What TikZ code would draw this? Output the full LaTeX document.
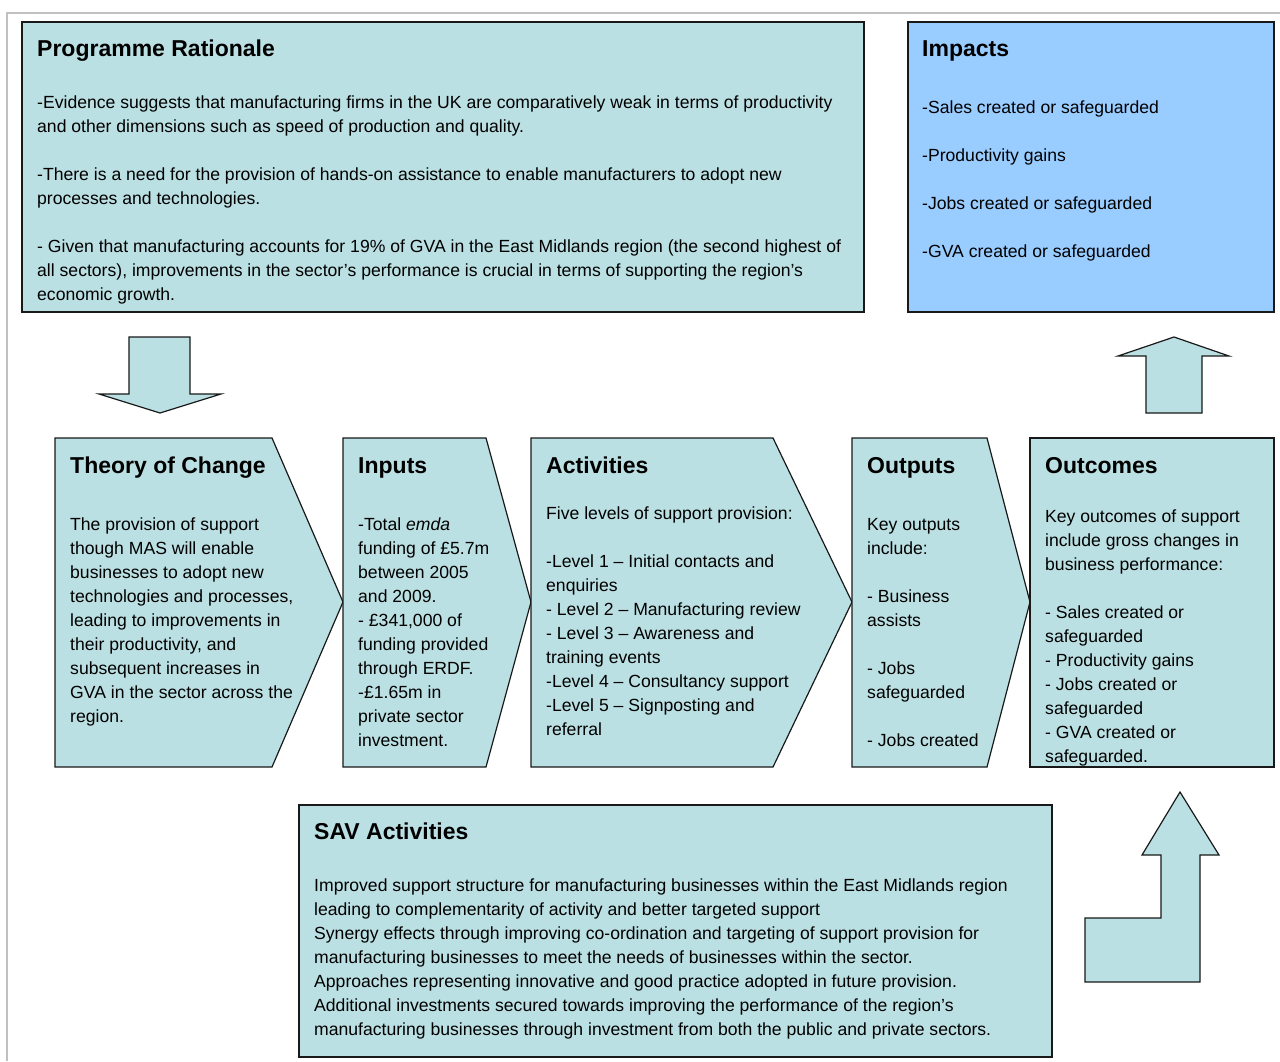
\documentclass[tikz,border=0pt]{standalone}
\usepackage{fontspec}
\setmainfont{Liberation Sans}
\definecolor{boxteal}{HTML}{BBE0E3}
\definecolor{impactblue}{HTML}{99CCFF}
\definecolor{framegrey}{HTML}{C0C0C0}
\begin{document}
\begin{tikzpicture}[x=1pt,y=-1pt,
  panel/.style={draw=black!90, line width=1.2pt, fill=boxteal, line join=miter},
  heading/.style={anchor=base west, inner sep=0pt, font=\fontsize{23}{28}\selectfont\bfseries},
  body/.style={anchor=north west, inner sep=0pt, align=left, font=\fontsize{17.6}{24}\selectfont},
]
\useasboundingbox (0,0) rectangle (1280,1061);

% page frame
\draw[framegrey, line width=2pt] (1280,13) -- (7,13) -- (7,1061);

% top row panels
\draw[panel] (22,22) rectangle (864,312);
\draw[panel, fill=impactblue] (908,22) rectangle (1274,312);

% block arrows between rows
\draw[panel] (129,337) -- (190,337) -- (190,394) -- (221,394) -- (160,413)
  -- (99,394) -- (129,394) -- cycle;
\draw[panel] (1146,413) -- (1146,356) -- (1118,356) -- (1174,337) -- (1229,356)
  -- (1202,356) -- (1202,413) -- cycle;

% chevron sequence
\draw[panel] (55,438) -- (272,438) -- (343,602) -- (272,767) -- (55,767) -- cycle;
\draw[panel] (343,438) -- (486,438) -- (531,602) -- (486,767) -- (343,767) -- cycle;
\draw[panel] (531,438) -- (773,438) -- (852,602) -- (773,767) -- (531,767) -- cycle;
\draw[panel] (852,438) -- (987,438) -- (1030,602) -- (987,767) -- (852,767) -- cycle;
\draw[panel] (1030,438) rectangle (1274,767);

% SAV panel and bent arrow
\draw[panel] (299,805) rectangle (1052,1057);
\draw[panel] (1085,918) -- (1161,918) -- (1161,855) -- (1142,855) -- (1180,792)
  -- (1219,855) -- (1200,855) -- (1200,982) -- (1085,982) -- cycle;

% ---- texts ----
\node[heading] (prhead) at (37,56) {Programme Rationale};
\node[body] (prtext) at (37,91.8) {\strut -Evidence suggests that manufacturing firms in the UK are comparatively weak in terms of productivity\\
and other dimensions such as speed of production and quality.\\[24pt]
-There is a need for the provision of hands-on assistance to enable manufacturers to adopt new\\
processes and technologies.\\[24pt]
- Given that manufacturing accounts for 19\% of GVA in the East Midlands region (the second highest of\\
all sectors), improvements in the sector’s performance is crucial in terms of supporting the region’s\\
economic growth.};

\node[heading] (imphead) at (922,56) {Impacts};
\node[body] (imptext) at (922,96.2) {\strut -Sales created or safeguarded\\[24pt]
-Productivity gains\\[24pt]
-Jobs created or safeguarded\\[24pt]
-GVA created or safeguarded};

\node[heading] (tochead) at (70,473) {Theory of Change};
\node[body] (toctext) at (70,513.2) {\strut The provision of support\\
though MAS will enable\\
businesses to adopt new\\
technologies and processes,\\
leading to improvements in\\
their productivity, and\\
subsequent increases in\\
GVA in the sector across the\\
region.};

\node[heading] (inhead) at (358,473) {Inputs};
\node[body] (intext) at (358,513.2) {\strut -Total \textit{emda}\\
funding of £5.7m\\
between 2005\\
and 2009.\\
- £341,000 of\\
funding provided\\
through ERDF.\\
-£1.65m in\\
private sector\\
investment.};

\node[heading] (acthead) at (546,473) {Activities};
\node[body] (acttext) at (546,502.2) {\strut Five levels of support provision:\\[24pt]
-Level 1 – Initial contacts and\\
enquiries\\
- Level 2 – Manufacturing review\\
- Level 3 – Awareness and\\
training events\\
-Level 4 – Consultancy support\\
-Level 5 – Signposting and\\
referral};

\node[heading] (outhead) at (867,473) {Outputs};
\node[body] (outtext) at (867,513.2) {\strut Key outputs\\
include:\\[24pt]
- Business\\
assists\\[24pt]
- Jobs\\
safeguarded\\[24pt]
- Jobs created};

\node[heading] (ochead) at (1045,473) {Outcomes};
\node[body] (octext) at (1045,505.2) {\strut Key outcomes of support\\
include gross changes in\\
business performance:\\[24pt]
- Sales created or\\
safeguarded\\
- Productivity gains\\
- Jobs created or\\
safeguarded\\
- GVA created or\\
safeguarded.};

\node[heading] (savhead) at (314,839) {SAV Activities};
\node[body] (savtext) at (314,874.2) {\strut Improved support structure for manufacturing businesses within the East Midlands region\\
leading to complementarity of activity and better targeted support\\
Synergy effects through improving co-ordination and targeting of support provision for\\
manufacturing businesses to meet the needs of businesses within the sector.\\
Approaches representing innovative and good practice adopted in future provision.\\
Additional investments secured towards improving the performance of the region’s\\
manufacturing businesses through investment from both the public and private sectors.};
\end{tikzpicture}
\end{document}
